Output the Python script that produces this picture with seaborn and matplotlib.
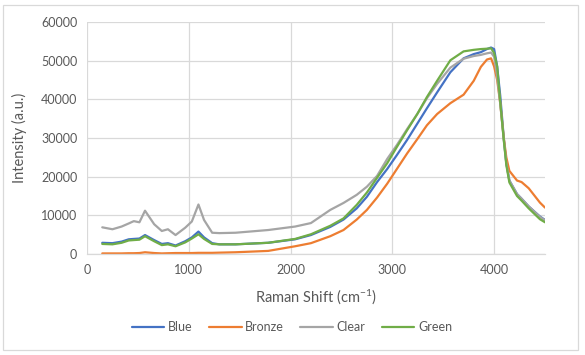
import matplotlib
matplotlib.use("Agg")
import matplotlib.pyplot as plt
import seaborn as sns
import pandas as pd
from matplotlib.patches import Rectangle

# ---- data ----
shift = [150, 250, 340, 410, 460, 515, 570, 660, 735, 795, 870, 965, 1030, 1095, 1150,
         1230, 1300, 1460, 1780, 2045, 2200, 2390, 2520, 2650, 2750, 2850, 2950, 3045,
         3145, 3245, 3340, 3440, 3570, 3700, 3800, 3870, 3930, 3970, 4000, 4030, 4060,
         4095, 4120, 4150, 4225, 4270, 4340, 4450, 4500]

blue = [2900, 2800, 3200, 3800, 3900, 4000, 4900, 3600, 2600, 2800, 2200, 3300, 4300, 5800, 4300,
        2800, 2500, 2500, 2900, 3800, 4900, 7000, 8900, 11800, 14800, 18600, 22000, 25600,
        29500, 33700, 37700, 41800, 47000, 50600, 51700, 52200, 53000, 53400, 53000, 48500, 41000,
        30000, 23500, 19000, 15500, 14300, 12300, 9700, 8800]

bronze = [150, 150, 150, 200, 200, 250, 450, 250, 150, 200, 250, 250, 250, 300, 300,
          300, 350, 450, 800, 2000, 2800, 4600, 6200, 8900, 11400, 14600, 18200, 22000,
          26000, 29700, 33300, 36200, 39000, 41200, 44800, 48400, 50300, 50600, 48500, 45000, 39000,
          30000, 25000, 21500, 19000, 18600, 17000, 13300, 12000]

clear = [6900, 6400, 7100, 7900, 8500, 8200, 11200, 7700, 5950, 6400, 4900, 6800, 8400, 12800, 8800,
         5500, 5400, 5500, 6200, 7100, 8000, 11400, 13200, 15300, 17400, 20200, 24600, 28200,
         32300, 36200, 40300, 44000, 48200, 50500, 51200, 51500, 51900, 52100, 51000, 46000, 39000,
         29500, 23500, 19000, 15500, 14300, 12300, 9600, 8700]

green = [2600, 2500, 2900, 3500, 3600, 3700, 4600, 3300, 2300, 2500, 2000, 3000, 4000, 5100, 3900,
         2600, 2500, 2500, 2900, 3900, 5100, 7300, 9200, 12700, 15900, 19700, 23500, 27700,
         32000, 36200, 40600, 44800, 50100, 52400, 52800, 53000, 53100, 53200, 52000, 48500, 39400,
         29500, 23000, 18500, 15000, 13800, 11800, 9000, 8200]

series_names = ["Blue", "Bronze", "Clear", "Green"]
series_values = [blue, bronze, clear, green]
x_ticks = [0, 1000, 2000, 3000, 4000]
y_ticks = [0, 10000, 20000, 30000, 40000, 50000, 60000]

colors = ["#4472C4", "#ED7D31", "#A5A5A5", "#70AD47"]

rows = []
for name, vals in zip(series_names, series_values):
    for x, y in zip(shift, vals):
        rows.append({"shift": x, "intensity": y, "sample": name})
df = pd.DataFrame(rows)

sns.set_theme(style="white")
plt.rcParams["font.family"] = ["Lato", "DejaVu Sans"]
plt.rcParams["mathtext.fontset"] = "custom"
plt.rcParams["mathtext.rm"] = "Lato"
plt.rcParams["mathtext.it"] = "Lato:italic"

fig = plt.figure(figsize=(5.85, 3.55), dpi=100)
ax = fig.add_axes([87 / 585, 1 - 254 / 355, (545 - 87) / 585, (254 - 22) / 355])

sns.lineplot(data=df, x="shift", y="intensity", hue="sample", hue_order=series_names,
             palette=colors, estimator=None, sort=False, linewidth=1.6, ax=ax, legend=True)

ax.set_xlim(0, 4500)
ax.set_ylim(0, 60000)
ax.set_xticks(x_ticks)
ax.set_yticks(y_ticks)
ax.set_xticklabels([str(t) for t in x_ticks])
ax.set_yticklabels([str(t) for t in y_ticks])
ax.grid(True, color="#D9D9D9", linewidth=0.9)
ax.set_axisbelow(True)
for s in ["left", "right", "top"]:
    ax.spines[s].set_visible(False)
ax.spines["bottom"].set_color("#D9D9D9")
ax.spines["bottom"].set_linewidth(0.9)
ax.tick_params(axis="both", length=0, labelsize=9, colors="#595959", pad=7)

ax.set_xlabel(r"Raman Shift (cm$^{\mathregular{-1}}$)", fontsize=10.5, color="#595959", labelpad=8)
ax.set_ylabel("Intensity (a.u.)", fontsize=10.5, color="#595959", labelpad=10)

handles, labels = ax.get_legend_handles_labels()
ax.legend(handles, labels, loc="center", bbox_to_anchor=(292 / 585, 1 - 327 / 355),
          bbox_transform=fig.transFigure, ncol=4, frameon=False, fontsize=9,
          handlelength=2.6, handletextpad=0.3, columnspacing=1.3, labelcolor="#595959")

fig.patches.append(Rectangle((3 / 585, 1 - 350 / 355), 575 / 585, 345 / 355,
                             transform=fig.transFigure, fill=False,
                             edgecolor="#D9D9D9", linewidth=0.9))

fig.savefig("out.png", dpi=100, facecolor="white")
